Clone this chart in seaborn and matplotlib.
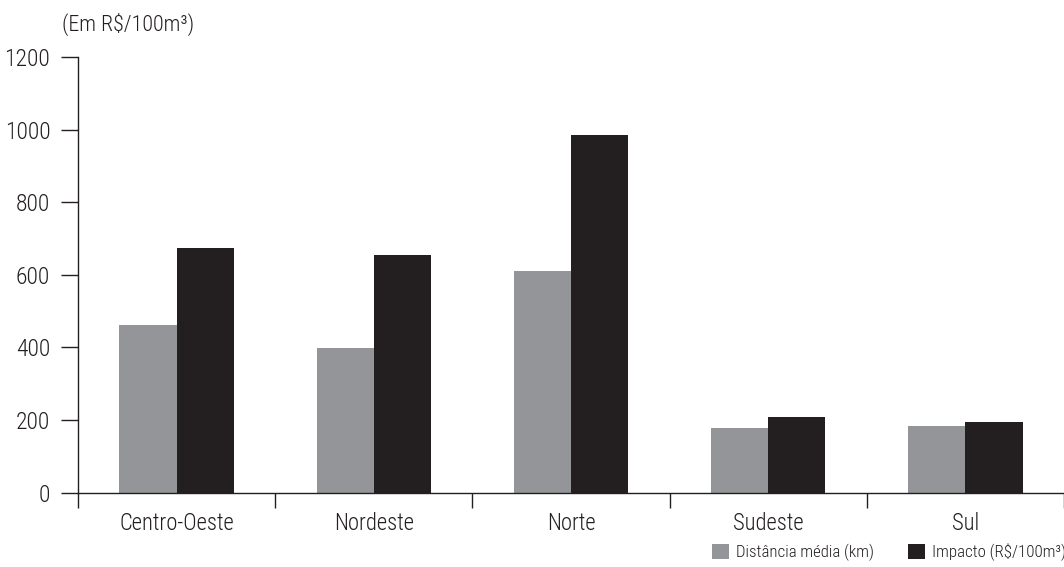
import pandas as pd
import matplotlib.pyplot as plt
import seaborn as sns
from matplotlib.patches import Patch

# data
regioes = ["Centro-Oeste", "Nordeste", "Norte", "Sudeste", "Sul"]
distancia = [461, 398, 610, 178, 184]
impacto = [674, 654, 986, 209, 194]
series = ["Distância média (km)", "Impacto (R$/100m³)"]
cores = ["#939598", "#231f20"]

df = pd.DataFrame({
    "Regiao": regioes * 2,
    "Valor": distancia + impacto,
    "Serie": [series[0]] * len(regioes) + [series[1]] * len(regioes),
})

sns.set_style("ticks")
plt.rcParams["font.family"] = ["Roboto Condensed", "Open Sans Condensed", "Noto Sans", "DejaVu Sans"]
plt.rcParams["font.stretch"] = "condensed"
plt.rcParams["font.weight"] = "light"
plt.rcParams["text.color"] = "#231f20"
plt.rcParams["xtick.color"] = "#231f20"
plt.rcParams["ytick.color"] = "#231f20"

fig = plt.figure(figsize=(10.64, 5.67), dpi=100)
ax = fig.add_axes([78 / 1064, 74.5 / 567, 1 - 78 / 1064, (492.5 - 57) / 567])

sns.barplot(data=df, x="Regiao", y="Valor", hue="Serie", palette=dict(zip(series, cores)),
            width=0.58, saturation=1, ax=ax, legend=False, linewidth=0)

ax.set_xlim(-0.5, 4.5)
ax.set_ylim(0, 1200)
ax.set_yticks(range(0, 1201, 200))
ax.set_xlabel("")
ax.set_ylabel("")
sns.despine(ax=ax)
for s in ["left", "bottom"]:
    ax.spines[s].set_linewidth(1.0)
    ax.spines[s].set_color("#231f20")

ax.tick_params(axis="y", length=12, width=1.0, labelsize=17, pad=8)
ax.tick_params(axis="x", which="major", length=0, labelsize=16.3, pad=14)
ax.set_xticks([i - 0.5 for i in range(6)], minor=True)
ax.tick_params(axis="x", which="minor", length=11, width=1.0)

fig.text(62 / 1064, 1 - 24 / 567, "(Em R$/100m³)", fontsize=15.8, va="center", ha="left")

handles = [Patch(facecolor=c, edgecolor="none") for c in cores]
fig.legend(handles, series, loc="lower right", bbox_to_anchor=(1.016, -0.016), ncol=2,
           frameon=False, fontsize=12.2, handlelength=1.0, handleheight=1.0,
           handletextpad=0.42, columnspacing=2.0)

plt.savefig("out.png", dpi=100)
